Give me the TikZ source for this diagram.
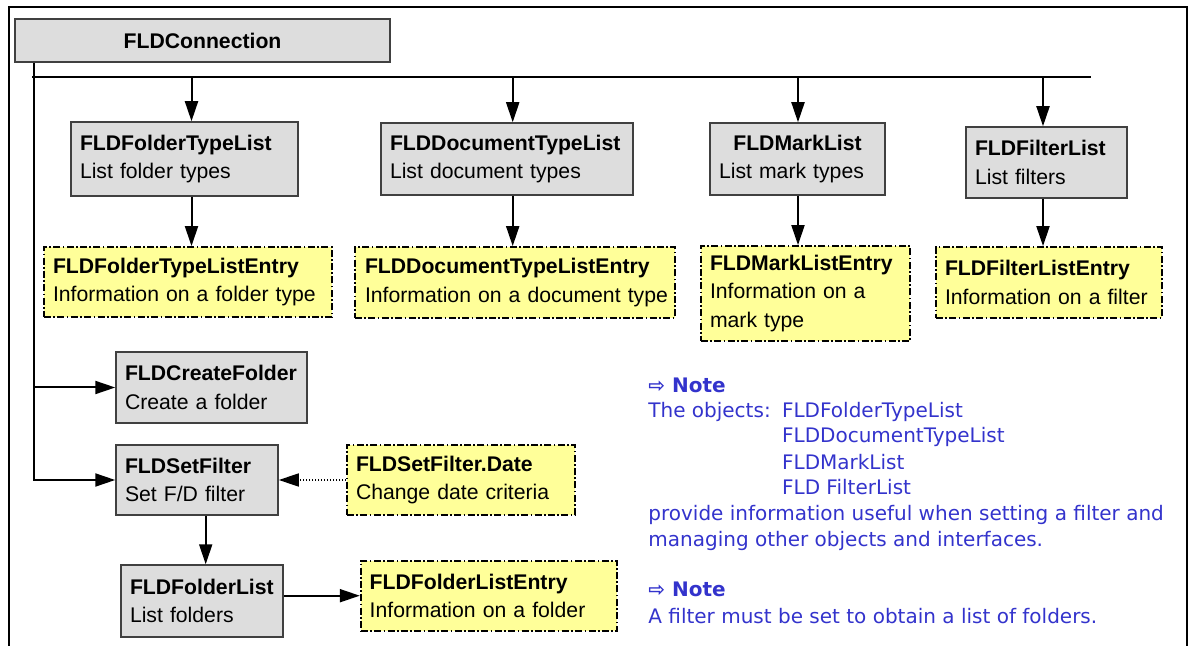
\documentclass[tikz,border=0pt]{standalone}
\usepackage{fontspec}
\setmainfont{Liberation Sans}
\newfontfamily\notefont{DejaVu Sans}
\usetikzlibrary{arrows.meta}
\definecolor{boxgray}{RGB}{221,221,221}
\definecolor{boxedge}{RGB}{64,64,64}
\definecolor{noteyellow}{RGB}{255,255,153}
\definecolor{noteblue}{RGB}{51,51,204}
\hyphenpenalty=10000
\exhyphenpenalty=10000
\begin{document}
\begin{tikzpicture}[x=0.5pt,y=-0.5pt,
  every node/.style={font=\fontsize{10.6}{14.1}\selectfont, inner sep=0pt},
  bx/.style n args={3}{minimum width=#1pt, minimum height=#2pt, text width=#3pt},
  graybox/.style={draw=boxedge, line width=0.75pt, fill=boxgray, align=left},
  entrybox/.style={draw=black, line width=0.9pt, fill=noteyellow, align=left,
    dash pattern=on 3.5pt off 1.2pt on 0.8pt off 1.2pt},
  arr/.style={line width=1pt, -{Triangle[length=10pt,width=6.5pt]}},
  dotarr/.style={line width=0.75pt, dash pattern=on 0.75pt off 0.75pt,
    -{Triangle[length=10pt,width=6.5pt]}},
  line/.style={line width=1pt},
  notetext/.style={anchor=base west, text=noteblue,
    font=\notefont\fontsize{10}{12.85}\selectfont}
]
\useasboundingbox (0,0) rectangle (1193,646);
% outer frame
\draw[line width=1pt] (8.5,650) -- (8.5,7.5) -- (1187,7.5) -- (1187,650);

% boxes
\node[graybox, align=center, minimum width=187.5pt, minimum height=21.5pt] (conn) at (202.5,40.5) {\textbf{FLDConnection}};

\node[graybox, bx={113.5}{37}{104.5}] (ftl) at (184.5,159) {\textbf{FLDFolderTypeList}\\List folder types};
\node[graybox, bx={126}{36}{117}] (dtl) at (507,159) {\textbf{FLDDocumentTypeList}\\List document types};
\node[graybox, bx={87.5}{36}{78.5}] (ml) at (797.5,159) {\hfill\textbf{FLDMarkList}\hfill\null\\List mark types};
\node[graybox, bx={80.5}{35.5}{71.5}] (fl) at (1046.5,162.5) {\textbf{FLDFilterList}\\List filters};

\node[entrybox, bx={144}{35}{135}] (ftle) at (188,282) {\textbf{FLDFolderTypeListEntry}\\Information on a folder type};
\node[entrybox, bx={160}{35.5}{158}] (dtle) at (515,282.5) {\hspace*{4pt}\textbf{FLDDocumentTypeListEntry}\\\hspace*{4pt}Information on a document type};
\node[entrybox, bx={104.5}{47.5}{95.5}] (mle) at (805.5,293.5) {\textbf{FLDMarkListEntry}\\Information on a\\mark type};
\node[entrybox, bx={113}{35.5}{104}] (fle) at (1049,282.5) {\textbf{FLDFilterListEntry}\\Information on a filter};

\node[graybox, bx={95.5}{35.5}{86.5}] (cf) at (211.5,387.5) {\textbf{FLDCreateFolder}\\Create a folder};
\node[graybox, bx={81}{35}{72}] (sf) at (197,480) {\textbf{FLDSetFilter}\\Set F/D filter};
\node[entrybox, bx={114}{35}{105}] (sfd) at (461,480) {\textbf{FLDSetFilter.Date}\\Change date criteria};
\node[graybox, bx={81}{36}{72}] (fol) at (202,601) {\textbf{FLDFolderList}\\List folders};
\node[entrybox, bx={128.2}{35}{119.2}] (fole) at (488.9,595.7) {\textbf{FLDFolderListEntry}\\Information on a folder};

% connectors
\coordinate (busL) at (32,77);
\coordinate (busR) at (1091,77);
\coordinate (b1) at (191.5,77);
\coordinate (b2) at (512.7,77);
\coordinate (b3) at (798,77);
\coordinate (b4) at (1043,77);
\coordinate (trunk) at (34,0);
\coordinate (c1) at (205.7,0);

\draw[line] (busL) -- (busR);
\draw[arr] (trunk |- conn.south) -- (trunk |- sf.west) -- (sf.west);
\draw[arr] (trunk |- cf.west) -- (cf.west);

\draw[arr] (b1) -- (b1 |- ftl.north);
\draw[arr] (b2) -- (b2 |- dtl.north);
\draw[arr] (b3) -- (b3 |- ml.north);
\draw[arr] (b4) -- (b4 |- fl.north);
\draw[arr] (b1 |- ftl.south) -- (b1 |- ftle.north);
\draw[arr] (b2 |- dtl.south) -- (b2 |- dtle.north);
\draw[arr] (b3 |- ml.south) -- (b3 |- mle.north);
\draw[arr] (b4 |- fl.south) -- (b4 |- fle.north);

\draw[dotarr] (sfd.west) -- (sf.east);
\draw[arr] (c1 |- sf.south) -- (c1 |- fol.north);
\draw[arr] (fol.east |- fole.west) -- (fole.west);

% notes
\node[notetext] (n1) at (648,392.7) {\bfseries ⇨ Note};
\node[notetext] (n2) at (648,417) {\makebox[66.85pt][l]{The objects:}FLDFolderTypeList};
\node[notetext] (n3) at (781.7,442.7) {FLDDocumentTypeList};
\node[notetext] (n4) at (781.7,469) {FLDMarkList};
\node[notetext] (n5) at (781.7,494) {FLD FilterList};
\node[notetext] (n6) at (648,520) {provide information useful when setting a filter and};
\node[notetext] (n7) at (648,546) {managing other objects and interfaces.};
\node[notetext] (n8) at (648,596.7) {\bfseries ⇨ Note};
\node[notetext] (n9) at (648,623.3) {A filter must be set to obtain a list of folders.};
\end{tikzpicture}
\end{document}
